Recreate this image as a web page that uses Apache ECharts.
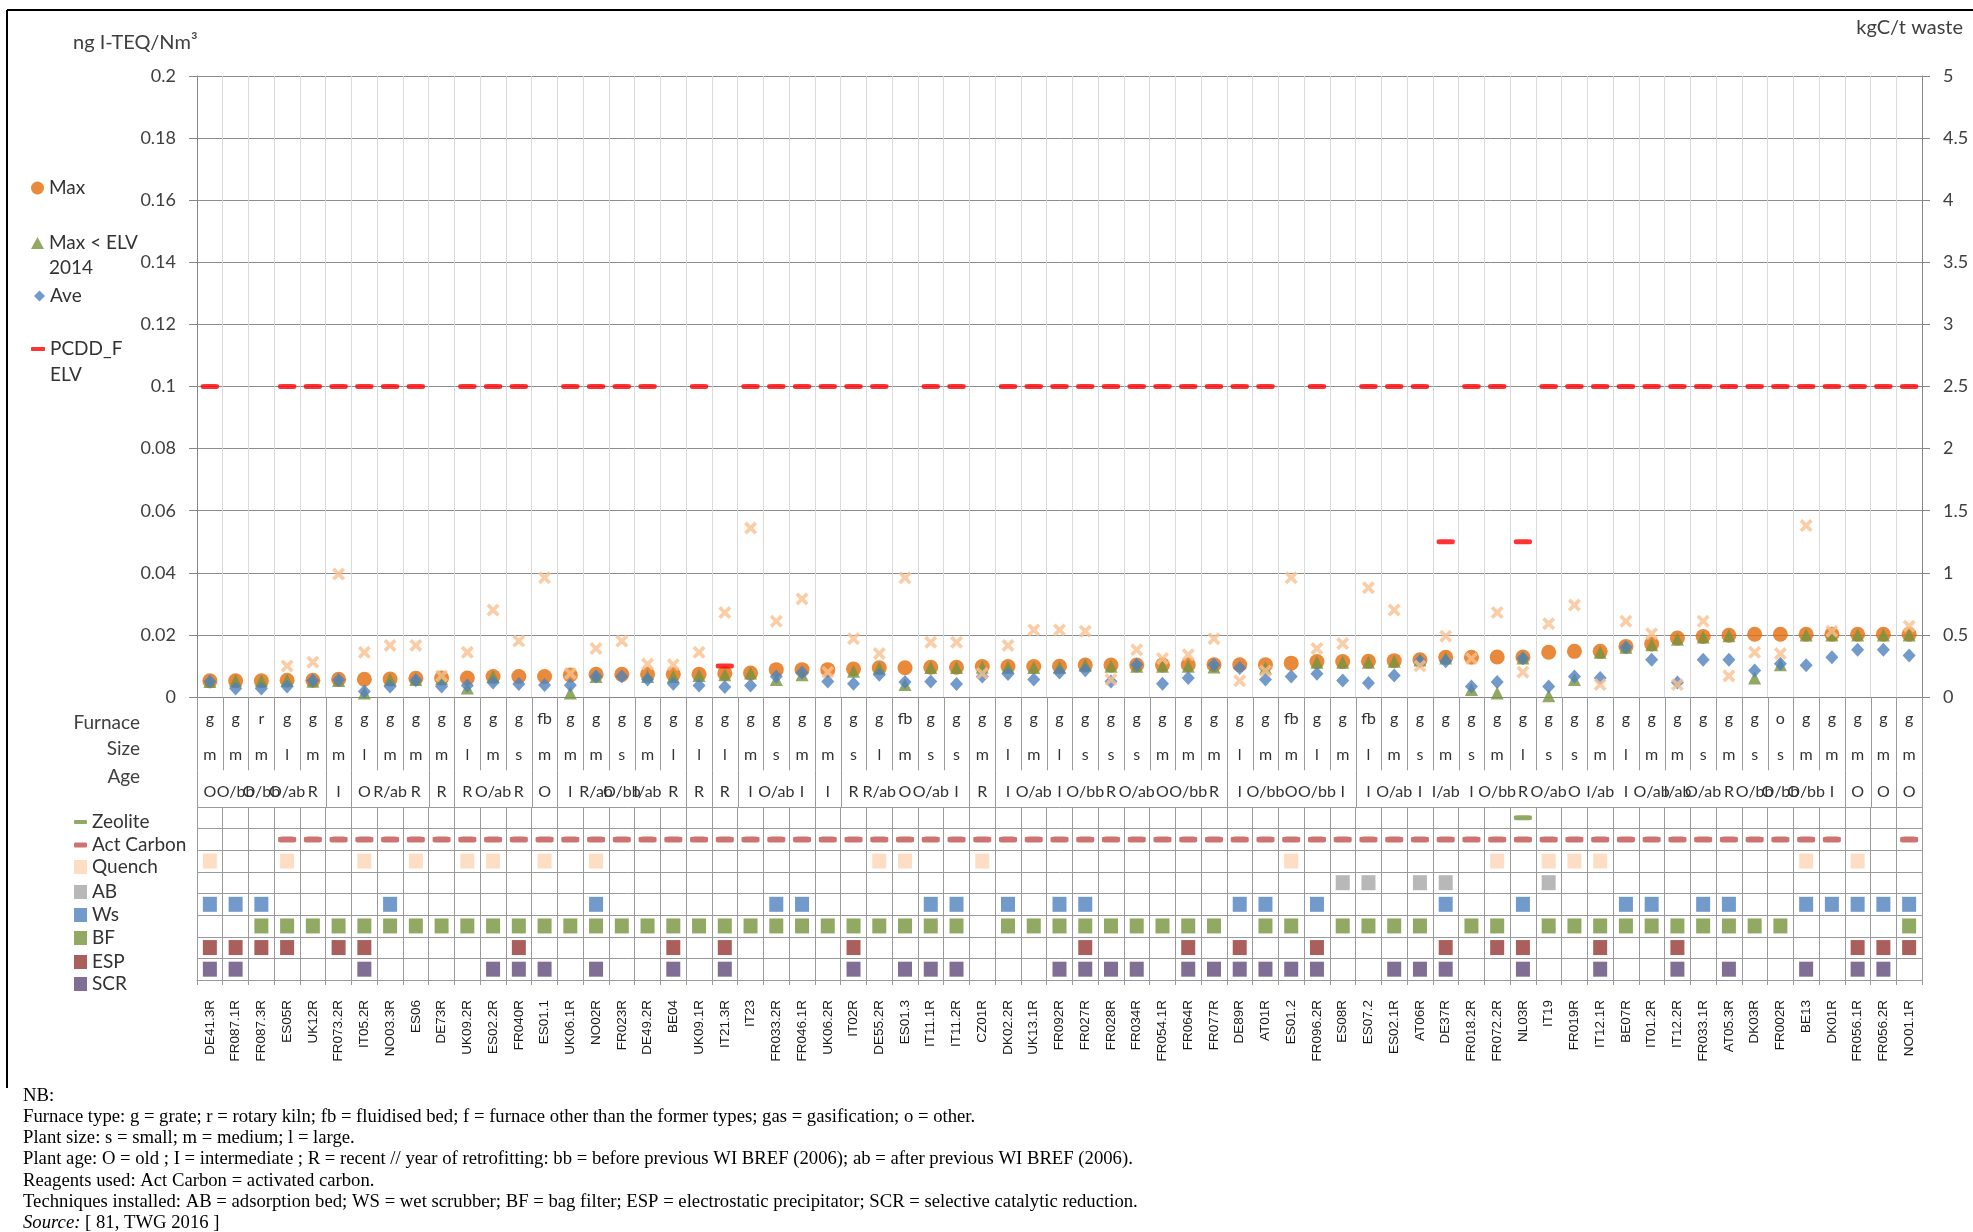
<!DOCTYPE html>
<html>
<head>
<meta charset="utf-8">
<script src="https://cdn.jsdelivr.net/npm/echarts@6/dist/echarts.min.js"></script>
<style>
html, body { margin: 0; padding: 0; background: #ffffff; }
#chart { width: 1973px; height: 1232px; }
</style>
</head>
<body>
<div id="chart"></div>
<script>
// Plants, ordered by increasing maximum PCDD/F emission
const plants = [
  'DE41.3R','FR087.1R','FR087.3R','ES05R','UK12R','FR073.2R','IT05.2R','NO03.3R','ES06','DE73R',
  'UK09.2R','ES02.2R','FR040R','ES01.1','UK06.1R','NO02R','FR023R','DE49.2R','BE04','UK09.1R',
  'IT21.3R','IT23','FR033.2R','FR046.1R','UK06.2R','IT02R','DE55.2R','ES01.3','IT11.1R','IT11.2R',
  'CZ01R','DK02.2R','UK13.1R','FR092R','FR027R','FR028R','FR034R','FR054.1R','FR064R','FR077R',
  'DE89R','AT01R','ES01.2','FR096.2R','ES08R','ES07.2','ES02.1R','AT06R','DE37R','FR018.2R',
  'FR072.2R','NL03R','IT19','FR019R','IT12.1R','BE07R','IT01.2R','IT12.2R','FR033.1R','AT05.3R',
  'DK03R','FR002R','BE13','DK01R','FR056.1R','FR056.2R','NO01.1R'
];

// Plant descriptors
const furnace = [
  'g','g','r','g','g','g','g','g','g','g',
  'g','g','g','fb','g','g','g','g','g','g',
  'g','g','g','g','g','g','g','fb','g','g',
  'g','g','g','g','g','g','g','g','g','g',
  'g','g','fb','g','g','fb','g','g','g','g',
  'g','g','g','g','g','g','g','g','g','g',
  'g','o','g','g','g','g','g'
];
const size = [
  'm','m','m','l','m','m','l','m','m','m',
  'l','m','s','m','m','m','s','m','l','l',
  'l','m','s','m','m','s','l','m','s','s',
  'm','l','m','l','s','s','s','m','m','m',
  'l','m','m','l','m','l','m','s','m','s',
  'm','l','s','s','m','l','m','m','s','m',
  's','s','m','m','m','m','m'
];
const age = [
  'O','O/bb','O/bb','O/ab','R','I','O','R/ab','R','R',
  'R','O/ab','R','O','I','R/ab','O/bb','I/ab','R','R',
  'R','I','O/ab','I','I','R','R/ab','O','O/ab','I',
  'R','I','O/ab','I','O/bb','R','O/ab','O','O/bb','R',
  'I','O/bb','O','O/bb','I','I','O/ab','I','I/ab','I',
  'O/bb','R','O/ab','O','I/ab','I','O/ab','I/ab','O/ab','R',
  'O/bb','O/bb','O/bb','I','O','O','O'
];

// PCDD/F, ng I-TEQ/Nm3
const maxVal = [
  0.0052,0.0052,0.0052,0.0054,0.0054,0.0057,0.0057,0.0058,0.0060,0.0061,
  0.0061,0.0066,0.0066,0.0066,0.0071,0.0073,0.0073,0.0073,0.0073,0.0073,
  0.0076,0.0077,0.0088,0.0088,0.0088,0.0090,0.0094,0.0094,0.0096,0.0096,
  0.0098,0.0098,0.0098,0.0099,0.0103,0.0103,0.0103,0.0103,0.0104,0.0104,
  0.0104,0.0104,0.0109,0.0114,0.0114,0.0115,0.0117,0.0120,0.0128,0.0128,
  0.0129,0.0129,0.0144,0.0147,0.0147,0.0163,0.0171,0.0190,0.0195,0.0199,
  0.0202,0.0202,0.0202,0.0202,0.0202,0.0202,0.0202
];
const maxBelowElv = [
  0.0050,0.0052,0.0052,0.0054,0.0051,0.0053,0.0013,0.0056,0.0056,0.0059,
  0.0029,0.0066,null,null,0.0013,0.0066,null,0.0066,0.0066,0.0069,
  0.0072,0.0077,0.0056,0.0072,null,0.0083,0.0093,0.0040,0.0095,0.0095,
  0.0096,0.0096,0.0095,0.0096,0.0103,0.0099,0.0099,0.0099,0.0099,0.0097,
  null,0.0093,null,0.0112,0.0112,0.0112,0.0115,0.0119,0.0126,0.0024,
  0.0013,0.0126,0.0004,0.0056,0.0144,0.0160,0.0168,0.0186,0.0193,0.0197,
  0.0061,0.0104,0.0200,0.0200,0.0200,0.0200,0.0200
];
const aveVal = [
  0.0050,0.0027,0.0027,0.0034,0.0053,0.0055,0.0018,0.0034,0.0054,0.0034,
  0.0037,0.0047,0.0042,0.0039,0.0038,0.0066,0.0066,0.0056,0.0043,0.0037,
  0.0032,0.0037,0.0066,0.0079,0.0050,0.0043,0.0072,0.0048,0.0050,0.0042,
  0.0066,0.0074,0.0056,0.0079,0.0086,0.0050,0.0104,0.0043,0.0061,0.0104,
  0.0093,0.0056,0.0066,0.0075,0.0053,0.0045,0.0069,0.0115,0.0115,0.0034,
  0.0048,0.0125,0.0034,0.0066,0.0061,0.0160,0.0120,0.0047,0.0120,0.0120,
  0.0085,0.0107,0.0102,0.0128,0.0152,0.0152,0.0134
];
const elv = [
  0.1,null,null,0.1,0.1,0.1,0.1,0.1,0.1,null,
  0.1,0.1,0.1,null,0.1,0.1,0.1,0.1,null,0.1,
  0.01,0.1,0.1,0.1,0.1,0.1,0.1,null,0.1,0.1,
  null,0.1,0.1,0.1,0.1,0.1,0.1,0.1,0.1,0.1,
  0.1,0.1,null,0.1,null,0.1,0.1,0.1,0.05,0.1,
  0.1,0.05,0.1,0.1,0.1,0.1,0.1,0.1,0.1,0.1,
  0.1,0.1,0.1,0.1,0.1,0.1,0.1
];

// Activated carbon consumption, kgC/t waste (right axis)
const carbonUse = [
  null,null,null,0.25,0.28,0.99,0.36,0.415,0.415,0.17,
  0.36,0.70,0.45,0.96,0.19,0.39,0.45,0.265,0.26,0.36,
  0.68,1.36,0.61,0.79,0.20,0.47,0.35,0.96,0.44,0.44,
  0.19,0.415,0.54,0.54,0.53,0.14,0.38,0.31,0.34,0.47,
  0.13,0.21,0.96,0.39,0.43,0.88,0.70,0.25,0.49,0.31,
  0.68,0.20,0.59,0.74,0.10,0.61,0.51,0.10,0.61,0.17,
  0.36,0.35,1.38,0.53,null,null,0.57
];

// Reagents and techniques installed (1 = present)
const zeolite = [
  0,0,0,0,0,0,0,0,0,0, 0,0,0,0,0,0,0,0,0,0, 0,0,0,0,0,0,0,0,0,0,
  0,0,0,0,0,0,0,0,0,0, 0,0,0,0,0,0,0,0,0,0, 0,1,0,0,0,0,0,0,0,0, 0,0,0,0,0,0,0
];
const actCarbon = [
  0,0,0,1,1,1,1,1,1,1, 1,1,1,1,1,1,1,1,1,1, 1,1,1,1,1,1,1,1,1,1,
  1,1,1,1,1,1,1,1,1,1, 1,1,1,1,1,1,1,1,1,1, 1,1,1,1,1,1,1,1,1,1, 1,1,1,1,0,0,1
];
const quench = [
  1,0,0,1,0,0,1,0,1,0, 1,1,0,1,0,1,0,0,0,0, 0,0,0,0,0,0,1,1,0,0,
  1,0,0,0,0,0,0,0,0,0, 0,0,1,0,0,0,0,0,0,0, 1,0,1,1,1,0,0,0,0,0, 0,0,1,0,1,0,0
];
const ab = [
  0,0,0,0,0,0,0,0,0,0, 0,0,0,0,0,0,0,0,0,0, 0,0,0,0,0,0,0,0,0,0,
  0,0,0,0,0,0,0,0,0,0, 0,0,0,0,1,1,0,1,1,0, 0,0,1,0,0,0,0,0,0,0, 0,0,0,0,0,0,0
];
const ws = [
  1,1,1,0,0,0,0,1,0,0, 0,0,0,0,0,1,0,0,0,0, 0,0,1,1,0,0,0,0,1,1,
  0,1,0,1,1,0,0,0,0,0, 1,1,0,1,0,0,0,0,1,0, 0,1,0,0,0,1,1,0,1,1, 0,0,1,1,1,1,1
];
const bf = [
  0,0,1,1,1,1,1,1,1,1, 1,1,1,1,1,1,1,1,1,1, 1,1,1,1,1,1,1,1,1,1,
  0,1,1,1,1,1,1,1,1,1, 0,1,1,0,1,1,1,1,0,1, 1,0,1,1,1,1,1,1,1,1, 1,1,0,0,0,0,1
];
const esp = [
  1,1,1,1,0,1,1,0,0,0, 0,0,1,0,0,0,0,0,1,0, 1,0,0,0,0,1,0,0,0,0,
  0,0,0,0,1,0,0,0,1,0, 1,0,0,1,0,0,0,0,1,0, 1,1,0,0,1,0,0,1,0,0, 0,0,0,0,1,1,1
];
const scr = [
  1,1,0,0,0,0,1,0,0,0, 0,1,1,1,0,1,0,0,1,0, 1,0,0,0,0,1,0,1,1,1,
  0,0,0,1,1,1,1,0,1,1, 1,1,1,1,0,0,1,1,1,0, 0,1,0,0,1,0,0,1,0,1, 0,0,1,0,1,1,0
];

const infoRows = ['Furnace', 'Size', 'Age'];
const techRows = ['Zeolite', 'Act Carbon', 'Quench', 'AB', 'Ws', 'BF', 'ESP', 'SCR'];

const notes = [
  'NB:',
  'Furnace type: g = grate; r = rotary kiln; fb = fluidised bed; f = furnace other than the former types; gas = gasification; o = other.',
  'Plant size: s = small; m = medium; l = large.',
  'Plant age: O = old ; I = intermediate ; R = recent // year of retrofitting: bb = before previous WI BREF (2006); ab = after previous WI BREF (2006).',
  'Reagents used: Act Carbon = activated carbon.',
  'Techniques installed: AB = adsorption bed; WS = wet scrubber; BF = bag filter; ESP = electrostatic precipitator; SCR = selective catalytic reduction.',
  '{i|Source:} [ 81, TWG 2016 ]'
];

// ---------- drawing ----------
const FONT = 'Lato';
const TXT = '#404040';
const AXIS = '#868686';
const CELL = '#9a9a9a';
const NOTE_FONT = { fontFamily: 'Liberation Serif', fontSize: 18.7, color: '#000000', lineHeight: 21.3 };
const xSymbol = 'path://M2,0 L5,3 L8,0 L10,2 L7,5 L10,8 L8,10 L5,7 L2,10 L0,8 L3,5 L0,2 Z';

const pairs = arr => arr.map((v, i) => [i, v]).filter(d => d[1] != null);
const cells = (flags, row) => flags.map((f, i) => (f ? [i, row] : null)).filter(Boolean);

function rowText(labels, row, dy) {
  return {
    type: 'custom', xAxisIndex: 1, yAxisIndex: 2, silent: true, z: 3,
    data: labels.map((t, i) => [i, row]),
    renderItem: (params, api) => {
      const p = api.coord([api.value(0), api.value(1)]);
      return {
        type: 'text', x: p[0], y: p[1] + dy,
        style: {
          text: labels[params.dataIndex], fill: '#333333',
          fontFamily: FONT, fontSize: 16, align: 'center', verticalAlign: 'middle'
        }
      };
    }
  };
}

// column separators of the descriptor rows; in the age row a separator is
// hidden where a neighbouring label is wider than its column
const separators = {
  type: 'custom', xAxisIndex: 1, yAxisIndex: 2, silent: true, z: 2,
  data: plants.map((p, i) => [i, 0]),
  renderItem: (params, api) => {
    const i = api.value(0);
    const band = api.size([1, 0])[0];
    const rowH = api.size([0, 1])[1];
    const cx = api.coord([i, 0])[0];
    const top = params.coordSys.y;
    const bottom = top + params.coordSys.height;
    const ageTop = api.coord([i, 2])[1] - rowH / 2;
    const fits = k => k < 0 || k >= age.length || age[k].length === 1;
    const st = { stroke: CELL, lineWidth: 1 };
    const out = [];
    const sep = (x, a, b) => {
      x = Math.round(x) + 0.5;
      out.push({ type: 'line', shape: { x1: x, y1: top, x2: x, y2: ageTop }, style: st });
      if (fits(a) && fits(b)) {
        out.push({ type: 'line', shape: { x1: x, y1: ageTop, x2: x, y2: bottom }, style: st });
      }
    };
    sep(cx - band / 2, i - 1, i);
    if (i === plants.length - 1) sep(cx + band / 2, i, i + 1);
    return { type: 'group', children: out };
  }
};

function techSeries(name, flags, color, size, symbol) {
  return {
    name, type: 'scatter', xAxisIndex: 2, yAxisIndex: 3, silent: true,
    symbol: symbol || 'rect', symbolSize: size, itemStyle: { color },
    data: cells(flags, name), z: 3
  };
}

// one legend per entry so each sits level with its own mark;
// two-line entries get a leading empty line so their first line faces the icon
function legendItem(name, left, center, w, h, lines, lh) {
  const l = {
    orient: 'vertical', left, padding: 0, itemGap: 0, selectedMode: false,
    itemWidth: w, itemHeight: h, data: [name],
    textStyle: { fontFamily: FONT, fontSize: 19, color: '#333333', lineHeight: lh || 20 }
  };
  if (lines) {
    l.formatter = '\n' + lines.join('\n');
    l.top = center - 1.5 * lh;
  } else {
    l.top = center - 10;
  }
  return l;
}

const legends = [
  legendItem('Max', 31, 188, 13, 13),
  legendItem('Max < ELV 2014', 31, 243, 13, 12, ['Max < ELV', '2014'], 25),
  legendItem('Ave', 34, 296, 11, 11),
  legendItem('PCDD_F ELV', 31, 349, 14, 4, ['PCDD_F', 'ELV'], 26),
  legendItem('Zeolite', 74, 822, 13, 4),
  legendItem('Act Carbon', 74, 845, 13, 5),
  legendItem('Quench', 74, 867, 13, 14),
  legendItem('AB', 74, 892, 13, 14),
  legendItem('Ws', 74, 915, 13, 14),
  legendItem('BF', 74, 938, 13, 14),
  legendItem('ESP', 74, 962, 13, 14),
  legendItem('SCR', 74, 984, 13, 14)
];

const rowLabelRich = {
  Furnace: { fontFamily: FONT, fontSize: 19, color: TXT, padding: [16, 0, 0, 0] },
  Size: { fontFamily: FONT, fontSize: 19, color: TXT, padding: [0, 0, 6, 0] },
  Age: { fontFamily: FONT, fontSize: 19, color: TXT, padding: [0, 0, 24, 0] }
};

const option = {
  animation: false,
  backgroundColor: '#ffffff',
  textStyle: { fontFamily: FONT },
  title: [
    {
      text: 'ng I-TEQ/Nm³', left: 73, top: 32, padding: 0,
      textStyle: { fontFamily: FONT, fontSize: 20, fontWeight: 'normal', color: TXT, lineHeight: 22 }
    },
    {
      text: 'kgC/t waste', right: 10, top: 17, padding: 0,
      textStyle: { fontFamily: FONT, fontSize: 20, fontWeight: 'normal', color: TXT, lineHeight: 22 }
    },
    {
      text: notes.join('\n'), left: 23, top: 1085, padding: 0,
      textStyle: Object.assign({ fontWeight: 'normal', rich: { i: Object.assign({ fontStyle: 'italic' }, NOTE_FONT) } }, NOTE_FONT)
    }
  ],
  legend: legends,
  grid: [
    { left: 197, top: 76, width: 1725, height: 621 },
    { left: 197, top: 697, width: 1725, height: 110 },
    { left: 197, top: 807, width: 1725, height: 173 }
  ],
  xAxis: [
    {
      gridIndex: 0, type: 'category', data: plants,
      axisLine: { lineStyle: { color: AXIS } }, axisTick: { show: false }, axisLabel: { show: false },
      splitLine: { show: true, interval: 0, lineStyle: { color: '#d9d9d9' } }
    },
    { gridIndex: 1, type: 'category', data: plants, show: false },
    {
      gridIndex: 2, type: 'category', data: plants,
      axisLine: { show: true, lineStyle: { color: CELL } },
      axisTick: { show: true, interval: 0, length: 5, lineStyle: { color: CELL } },
      axisLabel: { interval: 0, rotate: 90, margin: 20, fontFamily: 'Liberation Sans', fontSize: 13.5, color: '#1a1a1a' },
      splitLine: { show: true, interval: 0, lineStyle: { color: CELL } }
    }
  ],
  yAxis: [
    {
      gridIndex: 0, type: 'value', min: 0, max: 0.2, interval: 0.02, position: 'left',
      axisLine: { show: true, lineStyle: { color: AXIS } },
      axisTick: { show: true, length: 8, lineStyle: { color: AXIS } },
      axisLabel: { margin: 21, fontFamily: FONT, fontSize: 18, color: TXT, formatter: v => String(+v.toFixed(2)) },
      splitLine: { lineStyle: { color: '#8c8c8c' } }
    },
    {
      gridIndex: 0, type: 'value', min: 0, max: 5, interval: 0.5, position: 'right',
      axisLine: { show: true, lineStyle: { color: AXIS } },
      axisTick: { show: true, length: 8, lineStyle: { color: AXIS } },
      axisLabel: { margin: 21, fontFamily: FONT, fontSize: 18, color: TXT, formatter: v => String(+v.toFixed(1)) },
      splitLine: { show: false }
    },
    {
      gridIndex: 1, type: 'category', data: infoRows, inverse: true,
      axisLine: { show: false }, axisTick: { show: false }, splitLine: { show: false },
      axisLabel: { margin: 57, formatter: v => '{' + v + '|' + v + '}', rich: rowLabelRich }
    },
    {
      gridIndex: 2, type: 'category', data: techRows, inverse: true,
      axisLine: { show: true, lineStyle: { color: CELL } }, axisTick: { show: false }, axisLabel: { show: false },
      splitLine: { show: true, interval: 0, lineStyle: { color: CELL } }
    }
  ],
  series: [
    {
      name: 'Max', type: 'scatter', xAxisIndex: 0, yAxisIndex: 0,
      symbol: 'circle', symbolSize: 15, itemStyle: { color: '#E46C0A' }, data: pairs(maxVal), z: 2
    },
    {
      name: 'Max < ELV 2014', type: 'scatter', xAxisIndex: 0, yAxisIndex: 0,
      symbol: 'triangle', symbolSize: 13, itemStyle: { color: '#77933C' }, data: pairs(maxBelowElv), z: 3
    },
    {
      name: 'Ave', type: 'scatter', xAxisIndex: 0, yAxisIndex: 0,
      symbol: 'diamond', symbolSize: [13, 14], itemStyle: { color: '#4F81BD' }, data: pairs(aveVal), z: 4
    },
    {
      name: 'PCDD_F ELV', type: 'scatter', xAxisIndex: 0, yAxisIndex: 0,
      symbol: 'roundRect', symbolSize: [18, 5], itemStyle: { color: '#FF0000' }, data: pairs(elv), z: 5
    },
    {
      name: 'Activated carbon consumption', type: 'scatter', xAxisIndex: 0, yAxisIndex: 1,
      symbol: xSymbol, symbolSize: 13, itemStyle: { color: '#FAC090' }, data: pairs(carbonUse), z: 6
    },
    separators,
    rowText(furnace, 0, 4),
    rowText(size, 1, 3),
    rowText(age, 2, 3),
    techSeries('Zeolite', zeolite, '#77933C', [18, 5], 'roundRect'),
    techSeries('Act Carbon', actCarbon, '#C0504D', [18, 6], 'roundRect'),
    techSeries('Quench', quench, '#FCD5B5', [14, 15]),
    techSeries('AB', ab, '#A6A6A6', [14, 15]),
    techSeries('Ws', ws, '#4F81BD', [14, 15]),
    techSeries('BF', bf, '#77933C', [14, 15]),
    techSeries('ESP', esp, '#953735', [14, 15]),
    techSeries('SCR', scr, '#604A7B', [14, 15])
  ],
  graphic: [
    { type: 'line', silent: true, shape: { x1: 7, y1: 10, x2: 1973, y2: 10 }, style: { stroke: '#000000', lineWidth: 2 } },
    { type: 'line', silent: true, shape: { x1: 7, y1: 10, x2: 7, y2: 1088 }, style: { stroke: '#000000', lineWidth: 2 } }
  ]
};

const chart = echarts.init(document.getElementById('chart'));
chart.setOption(option);
</script>
</body>
</html>
